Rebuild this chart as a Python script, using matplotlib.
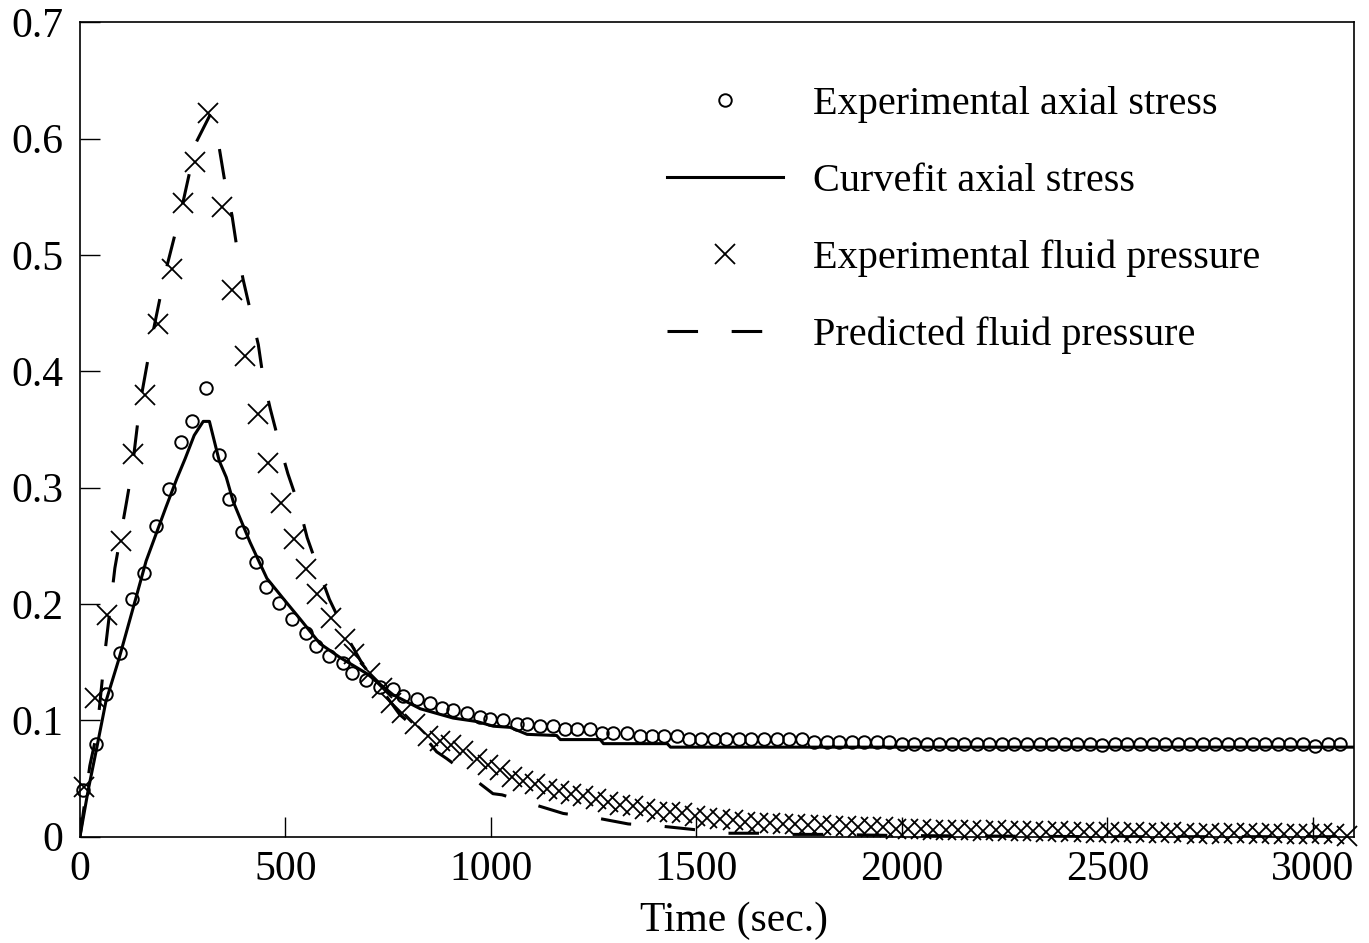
import numpy as np
import matplotlib
matplotlib.use("Agg")
import matplotlib.pyplot as plt

plt.rcParams["font.family"] = ["Liberation Serif", "DejaVu Serif"]
plt.rcParams["font.size"] = 29

# ---- experimental axial stress (circles) ----
stress_t = [7, 39, 63, 98, 127, 156, 185, 217, 246, 273, 307, 339, 363, 395, 429,
            453, 485, 517, 551, 575, 605, 639, 663, 697, 729, 761, 785, 819, 851, 880,
            907, 941, 973, 998, 1029, 1063, 1088, 1120, 1151, 1180, 1209, 1241, 1270,
            1298, 1331, 1363, 1392, 1420, 1453, 1481, 1512, 1542, 1573, 1603, 1634,
            1664, 1695, 1725, 1756, 1786, 1817, 1847, 1878, 1908, 1939, 1969, 2000,
            2030, 2061, 2091, 2122, 2152, 2183, 2213, 2244, 2274, 2305, 2335, 2366,
            2396, 2427, 2457, 2488, 2518, 2549, 2579, 2610, 2640, 2671, 2701, 2732,
            2762, 2793, 2823, 2854, 2884, 2915, 2945, 2976, 3006, 3037, 3067]
stress_v = [0.040, 0.080, 0.123, 0.158, 0.204, 0.227, 0.267, 0.299, 0.339, 0.357,
            0.386, 0.328, 0.290, 0.262, 0.236, 0.215, 0.201, 0.187, 0.175, 0.164,
            0.155, 0.149, 0.141, 0.135, 0.129, 0.127, 0.121, 0.118, 0.115, 0.111,
            0.109, 0.106, 0.103, 0.101, 0.100, 0.097, 0.097, 0.095, 0.095, 0.093,
            0.093, 0.093, 0.089, 0.089, 0.089, 0.087, 0.087, 0.087, 0.087, 0.084,
            0.084, 0.084, 0.084, 0.084, 0.084, 0.084, 0.084, 0.084, 0.084, 0.081,
            0.081, 0.081, 0.081, 0.081, 0.081, 0.081, 0.080, 0.080, 0.080, 0.080,
            0.080, 0.080, 0.080, 0.080, 0.080, 0.080, 0.080, 0.080, 0.080, 0.080,
            0.080, 0.080, 0.079, 0.080, 0.080, 0.080, 0.080, 0.080, 0.080, 0.080,
            0.080, 0.080, 0.080, 0.080, 0.080, 0.080, 0.080, 0.080, 0.080, 0.078,
            0.080, 0.080]

# ---- curvefit axial stress (solid) ----
fit_t = [0, 20, 39, 63, 95, 136, 161, 209, 236, 256, 278, 300, 315, 339, 356, 373,
         414, 455, 494, 536, 584, 633, 699, 762, 828, 908, 966, 1006, 1047, 1088,
         1160, 1169, 1266, 1274, 1429, 1437, 3100]
fit_v = [0.0, 0.040, 0.073, 0.116, 0.153, 0.205, 0.237, 0.283, 0.308, 0.325, 0.345,
         0.357, 0.357, 0.323, 0.309, 0.288, 0.253, 0.222, 0.205, 0.187, 0.166, 0.154,
         0.140, 0.122, 0.110, 0.102, 0.099, 0.095, 0.094, 0.088, 0.087, 0.0835,
         0.0835, 0.080, 0.080, 0.077, 0.077]

# ---- experimental fluid pressure (crosses) ----
fluid_t = [10, 37, 66, 100, 129, 158, 190, 224, 251, 280, 312, 346, 370, 402, 434,
           458, 490, 522, 551, 578, 610, 644, 668, 705, 734, 758, 783, 815, 848, 876,
           904, 933, 965, 992, 1022, 1052, 1078, 1108, 1137, 1165, 1196, 1225, 1256,
           1285, 1315, 1345, 1375, 1405, 1435, 1466, 1496, 1527, 1558, 1588, 1619,
           1649, 1680, 1710, 1741, 1771, 1802, 1832, 1863, 1893, 1924, 1954, 1985,
           2015, 2046, 2076, 2107, 2137, 2168, 2198, 2229, 2259, 2290, 2320, 2351,
           2381, 2412, 2442, 2473, 2503, 2534, 2564, 2595, 2625, 2656, 2686, 2717,
           2747, 2778, 2808, 2839, 2869, 2900, 2930, 2961, 2991, 3022, 3052, 3083]
fluid_v = [0.043, 0.119, 0.191, 0.254, 0.329, 0.380, 0.441, 0.488, 0.545, 0.580,
           0.622, 0.541, 0.470, 0.413, 0.363, 0.321, 0.287, 0.256, 0.230, 0.209,
           0.188, 0.170, 0.157, 0.141, 0.128, 0.115, 0.106, 0.097, 0.087, 0.082,
           0.079, 0.074, 0.067, 0.062, 0.057, 0.051, 0.048, 0.045, 0.041, 0.039,
           0.037, 0.035, 0.032, 0.030, 0.027, 0.026, 0.024, 0.021, 0.021, 0.020,
           0.018, 0.016, 0.015, 0.014, 0.013, 0.012, 0.012, 0.011, 0.011, 0.010,
           0.010, 0.009, 0.009, 0.008, 0.008, 0.008, 0.007, 0.007, 0.007, 0.006,
           0.006, 0.006, 0.006, 0.005, 0.006, 0.005, 0.005, 0.005, 0.004, 0.005,
           0.004, 0.004, 0.003, 0.004, 0.003, 0.004, 0.003, 0.003, 0.004, 0.003,
           0.002, 0.003, 0.002, 0.003, 0.003, 0.002, 0.003, 0.002, 0.002, 0.002,
           0.003, 0.002, 0.001]

# ---- predicted fluid pressure (dashed) ----
pred_t = [0, 24, 41, 63, 85, 114, 127, 146, 175, 207, 248, 283, 316, 339, 353, 370,
          382, 397, 416, 434, 446, 463, 485, 506, 534, 553, 583, 607, 656, 688, 737,
          778, 834, 868, 893, 961, 1005, 1027, 1102, 1176, 1259, 1334, 1417, 1498,
          1576, 1651, 1734, 1810, 2000, 2500, 3100]
pred_v = [0.0, 0.061, 0.089, 0.165, 0.231, 0.289, 0.316, 0.372, 0.429, 0.484, 0.541,
          0.597, 0.620, 0.592, 0.562, 0.534, 0.506, 0.479, 0.450, 0.423, 0.394, 0.368,
          0.338, 0.312, 0.283, 0.257, 0.227, 0.204, 0.168, 0.148, 0.125, 0.105, 0.088,
          0.073, 0.067, 0.049, 0.037, 0.036, 0.028, 0.020, 0.016, 0.011, 0.009, 0.006,
          0.003, 0.003, 0.002, 0.002, 0.001, 0.0, 0.0]

x_ticks = [0, 500, 1000, 1500, 2000, 2500, 3000]
y_ticks = [0, 0.1, 0.2, 0.3, 0.4, 0.5, 0.6, 0.7]
y_ticklabels = ["0", "0.1", "0.2", "0.3", "0.4", "0.5", "0.6", "0.7"]

fig = plt.figure(figsize=(13.69, 9.43), dpi=100)
ax = fig.add_axes([0.0584, 0.1127, 0.9306, 0.8636])

ax.plot(stress_t, stress_v, ls="none", marker="o", ms=9, mfc="none", mec="black",
        mew=1.4, label="Experimental axial stress", clip_on=False)
ax.plot(fit_t, fit_v, color="black", lw=2.2, label="Curvefit axial stress")
ax.plot(fluid_t, fluid_v, ls="none", marker="x", ms=14, mec="black", mew=1.3,
        label="Experimental fluid pressure", clip_on=False)
ax.plot(pred_t, pred_v, color="black", lw=2.2, ls=(0, (10, 11)),
        label="Predicted fluid pressure")

ax.set_xlim(0, 3100)
ax.set_ylim(0, 0.7)
ax.set_xticks(x_ticks)
ax.set_yticks(y_ticks)
ax.set_yticklabels(y_ticklabels)
ax.tick_params(direction="in", length=14.5, width=1.0, top=False, right=False,
               labelsize=30)
ax.tick_params(axis="x", pad=10)
ax.tick_params(axis="y", pad=12)
for sp in ax.spines.values():
    sp.set_linewidth(1.2)

ax.set_xlabel("Time (sec.)", fontsize=30)
ax.xaxis.set_label_coords(0.513, -0.103)
ax.xaxis.label.set_verticalalignment("center")

leg = ax.legend(loc="upper left", bbox_to_anchor=(667 / 1369, 1 - 86 / 943),
                bbox_transform=fig.transFigure, frameon=False, fontsize=29,
                borderpad=0, borderaxespad=0, handlelength=2.88, handletextpad=0.75,
                labelspacing=0.98, markerscale=1.0)

fig.savefig("out.png", dpi=100)
